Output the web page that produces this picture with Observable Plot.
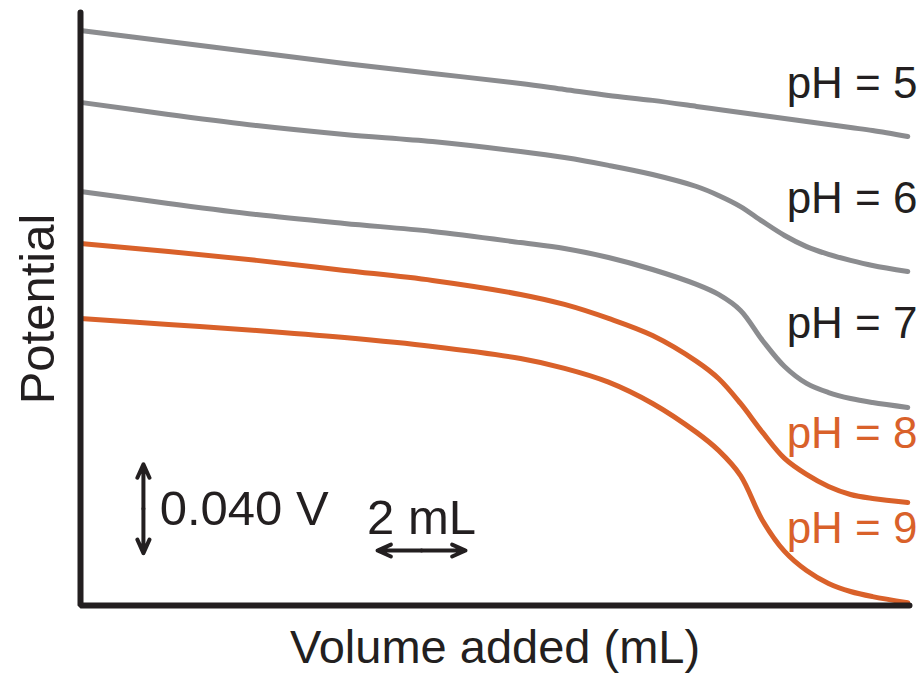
<!DOCTYPE html>
<html>
<head>
<meta charset="utf-8">
<script src="https://cdn.jsdelivr.net/npm/d3@7"></script>
<script src="https://cdn.jsdelivr.net/npm/@observablehq/plot@0.6"></script>
<style>
  html, body { margin: 0; padding: 0; background: #fff; overflow: hidden; }
  svg { display: block; }
</style>
</head>
<body>
<div id="chart"></div>
<script>
// Volume added (mL)
const volume = [0, 2, 4, 6, 8, 10, 11, 12, 13, 14, 14.5, 15, 15.5, 16, 16.5, 17, 17.5, 18, 18.8];
// Potential (mV, relative)
const pH5 = [258.4, 253.5, 248.5, 243.6, 239.1, 234.6, 231.9, 229.2, 227.0, 224.3, 222.9, 221.6, 220.2, 218.9, 217.5, 216.2, 214.8, 213.5, 210.8];
const pH6 = [226.1, 220.7, 215.7, 211.7, 208.5, 204.0, 201.3, 197.8, 193.7, 188.3, 184.3, 179.3, 172.6, 166.3, 161.3, 157.8, 155.1, 152.8, 150.1];
const pH7 = [186.1, 180.7, 175.7, 171.7, 168.1, 163.1, 160.4, 156.4, 151.0, 144.3, 139.8, 132.6, 119.1, 107.4, 99.8, 95.7, 93.0, 91.2, 89.0];
const pH8 = [162.7, 159.1, 155.1, 150.6, 146.1, 139.8, 135.3, 129.0, 121.3, 109.7, 102.0, 90.8, 77.8, 66.1, 58.9, 53.5, 49.9, 48.1, 46.3];
const pH9 = [129.0, 126.3, 123.6, 120.4, 116.4, 111.0, 106.6, 100.4, 90.8, 77.8, 69.7, 58.4, 38.2, 24.3, 15.7, 9.9, 6.3, 4.0, 1.3];

const seriesNames = ["pH = 5", "pH = 6", "pH = 7", "pH = 8", "pH = 9"];
const seriesValues = [pH5, pH6, pH7, pH8, pH9];
const seriesColors = ["#8b8c8f", "#8b8c8f", "#8b8c8f", "#d9612a", "#d9612a"];
const labelColors = ["#231f20", "#231f20", "#231f20", "#d9612a", "#d9612a"];
// label baseline positions (mV)
const labelPotential = [228.3, 176.6, 120.0, 70.6, 27.9];

const xMax = 18.84;
const yMax = 266.5;

const rows = [];
seriesNames.forEach((name, i) => {
  volume.forEach((v, j) => rows.push({series: name, volume: v, potential: seriesValues[i][j], color: seriesColors[i]}));
});
const labels = seriesNames.map((name, i) => ({text: name, volume: xMax, potential: labelPotential[i], color: labelColors[i]}));

const axisPath = [
  {volume: xMax, potential: 0},
  {volume: 0, potential: 0},
  {volume: 0, potential: yMax}
];

const font = "'Liberation Sans', Arial, Helvetica, sans-serif";
const dark = "#231f20";

// scale bars
const vBarX = 1.43, vBarMid = 43.5, vBarHalf = 20;
const hBarY = 24.7, hBarMid = 7.75, hBarHalf = 1;

const chart = Plot.plot({
  width: 920,
  height: 673,
  marginLeft: 80,
  marginRight: 11,
  marginTop: 12,
  marginBottom: 68,
  style: {fontFamily: font, background: "#fff"},
  x: {domain: [0, xMax], axis: null},
  y: {domain: [0, yMax], axis: null},
  marks: [
    Plot.line(rows, {x: "volume", y: "potential", z: "series", stroke: "color", strokeWidth: 5, curve: "catmull-rom"}),
    Plot.line(axisPath, {x: "volume", y: "potential", stroke: dark, strokeWidth: 6, strokeLinejoin: "miter"}),
    Plot.text(labels, {x: "volume", y: "potential", text: "text", fill: "color", textAnchor: "end", lineAnchor: "bottom", dx: 8, fontSize: 44}),
    // vertical scale bar (0.040 V)
    Plot.arrow([{x: vBarX, y1: vBarMid, y2: vBarMid + vBarHalf}, {x: vBarX, y1: vBarMid, y2: vBarMid - vBarHalf}],
      {x1: "x", x2: "x", y1: "y1", y2: "y2", stroke: dark, strokeWidth: 4, headLength: 14, headAngle: 48}),
    Plot.text([{x: 1.8, y: 36, t: "0.040 V"}], {x: "x", y: "y", text: "t", textAnchor: "start", lineAnchor: "bottom", fontSize: 49, fill: dark}),
    // horizontal scale bar (2 mL)
    Plot.arrow([{y: hBarY, x1: hBarMid, x2: hBarMid + hBarHalf}, {y: hBarY, x1: hBarMid, x2: hBarMid - hBarHalf}],
      {x1: "x1", x2: "x2", y1: "y", y2: "y", stroke: dark, strokeWidth: 4, headLength: 14, headAngle: 48}),
    Plot.text([{x: 7.75, y: 32, t: "2 mL"}], {x: "x", y: "y", text: "t", textAnchor: "middle", lineAnchor: "bottom", fontSize: 49, fill: dark}),
    // axis titles
    Plot.text(["Volume added (mL)"], {frameAnchor: "bottom", text: d => d, textAnchor: "middle", lineAnchor: "bottom", dy: 57, fontSize: 47, fill: dark}),
    Plot.text(["Potential"], {frameAnchor: "left", text: d => d, textAnchor: "middle", rotate: -90, lineAnchor: "bottom", dx: -27, fontSize: 49, fill: dark})
  ]
});
document.getElementById("chart").appendChild(chart);
</script>
</body>
</html>
